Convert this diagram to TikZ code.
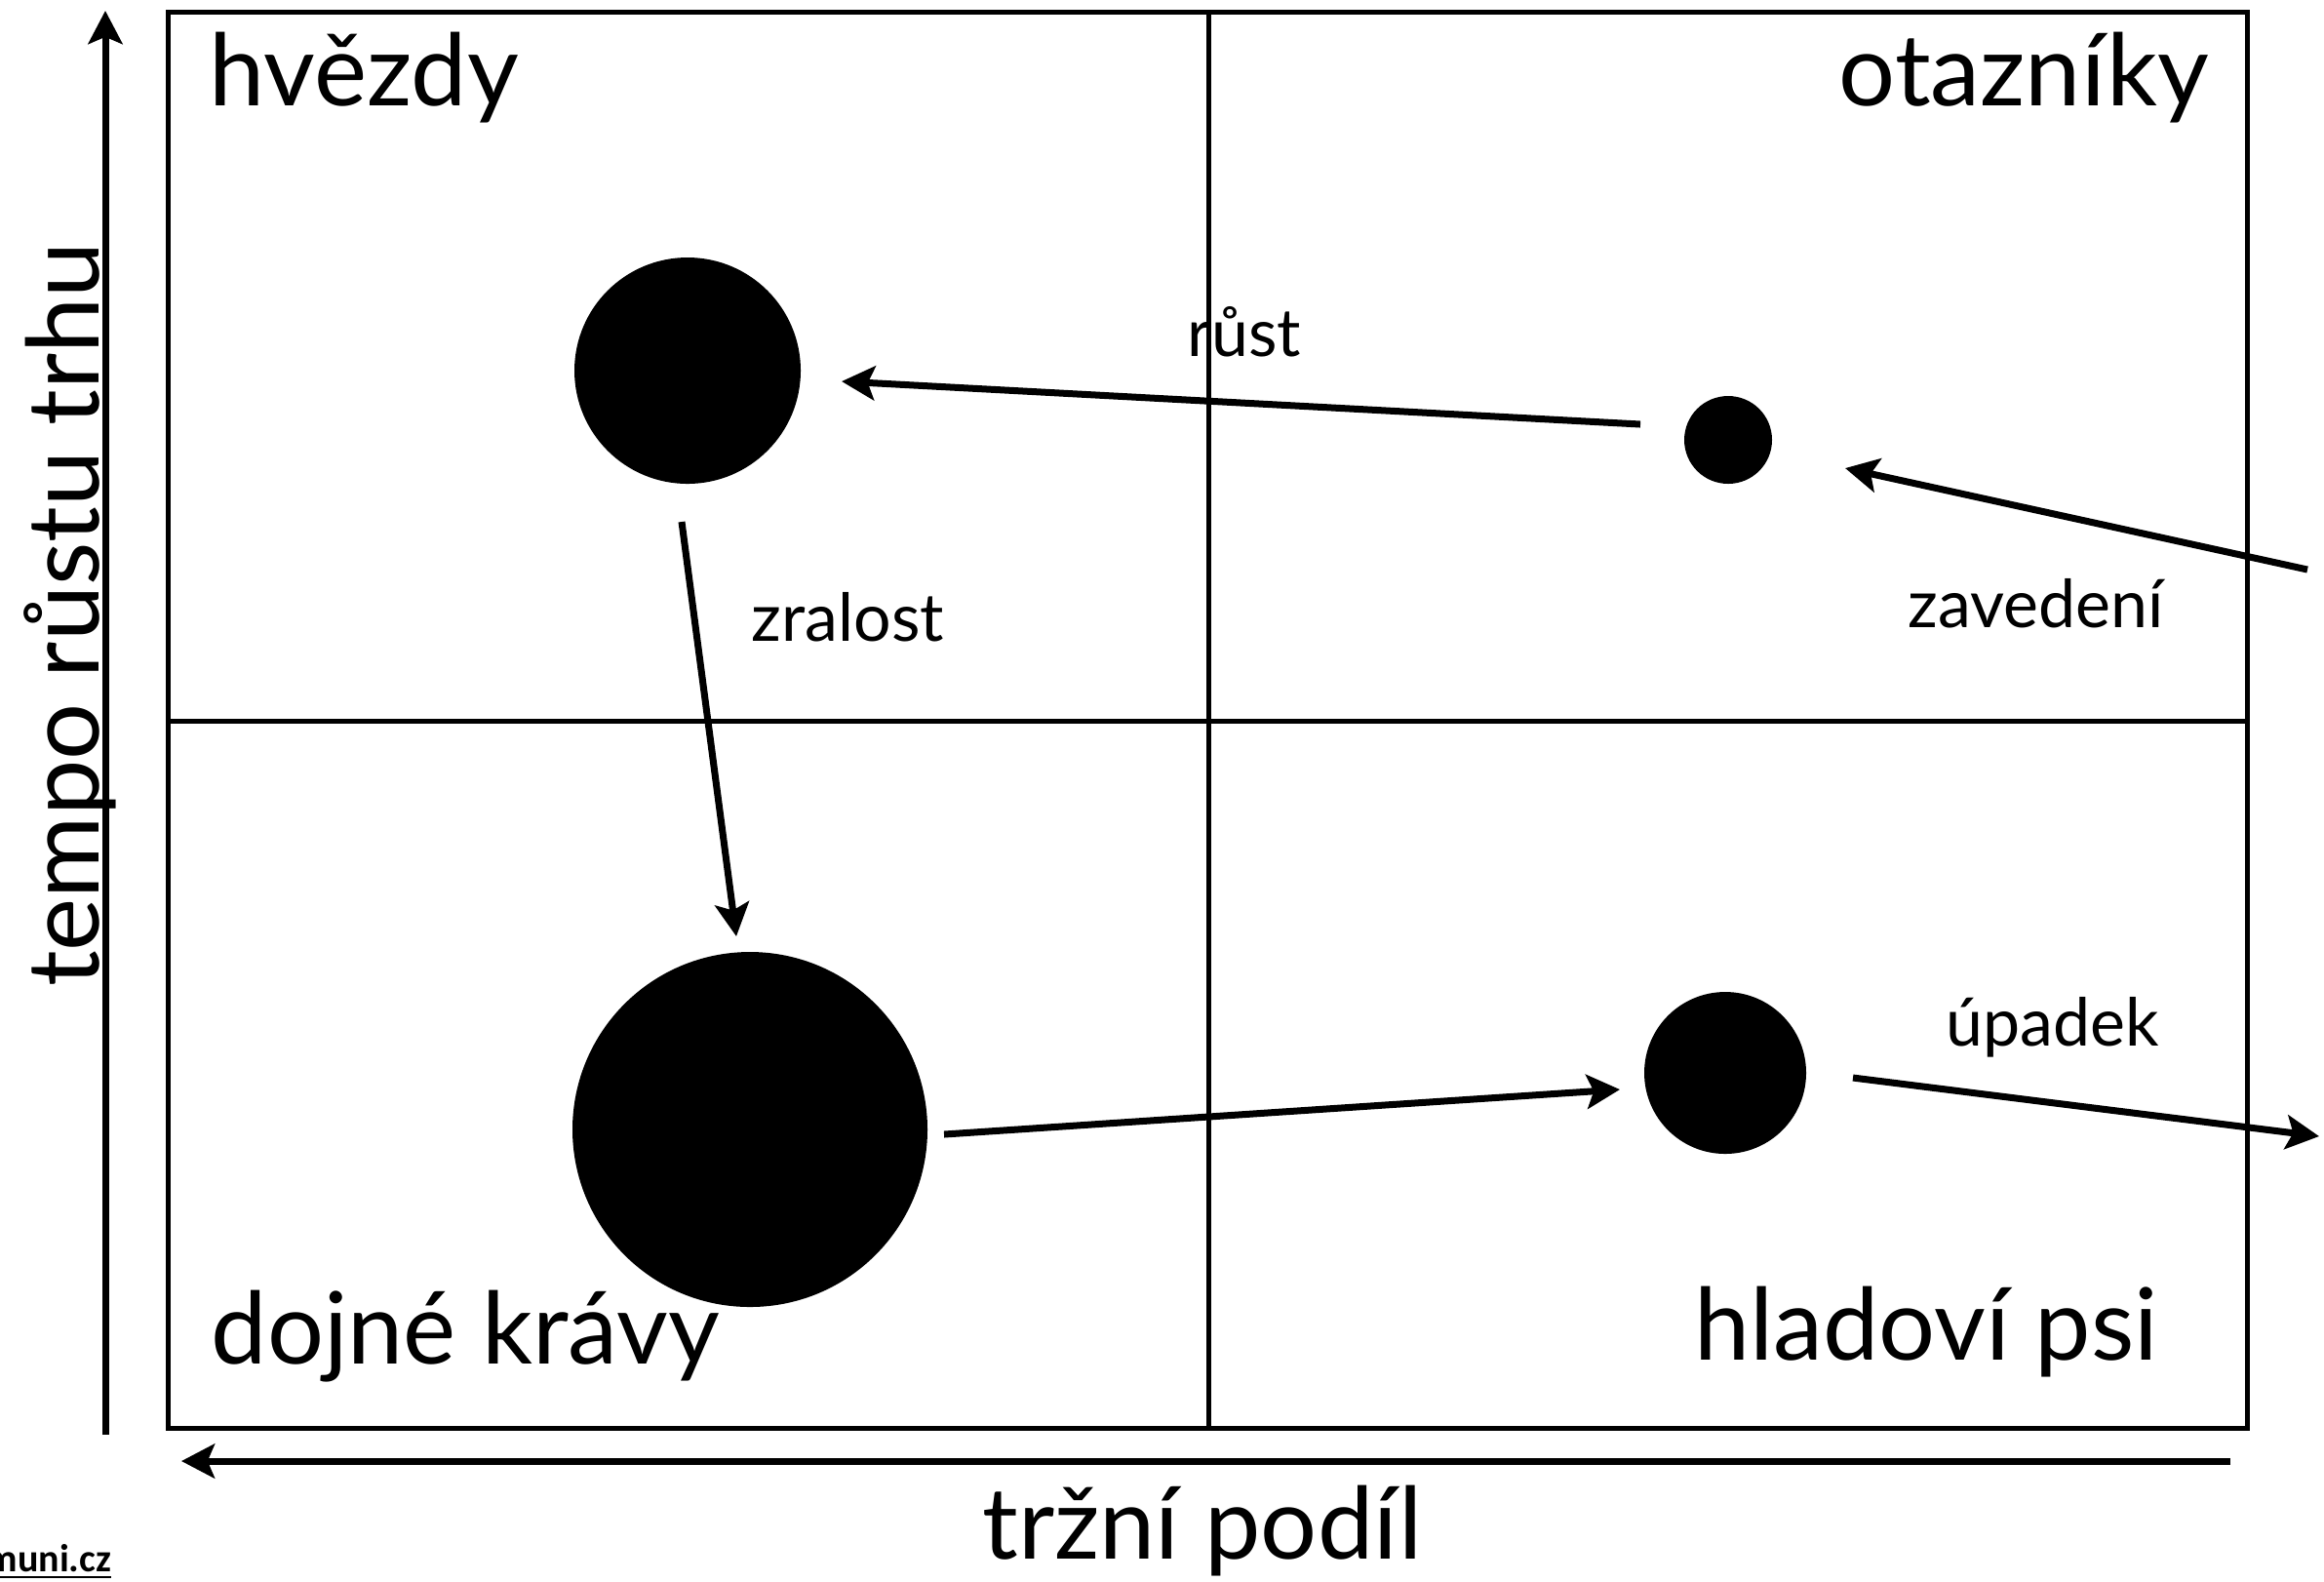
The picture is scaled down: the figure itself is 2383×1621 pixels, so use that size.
\documentclass[tikz,border=0pt]{standalone}
\usepackage{fontspec}
\setmainfont{Lato}
\newfontfamily\calib{Carlito}
\usetikzlibrary{arrows.meta}
\begin{document}
\begin{tikzpicture}[x=0.25pt,y=-0.25pt,
  frame/.style={line width=1.25pt},
  arr/.style={line width=1.75pt,-{Stealth[length=8.5pt,width=8.75pt,inset=1.8pt]}},
  dot/.style={circle,fill=black,inner sep=0pt,minimum size=#1},
  big/.style={font=\fontsize{25.6}{30}\selectfont,inner sep=0pt},
  small/.style={font=\fontsize{17}{20}\selectfont,inner sep=0pt}]
\useasboundingbox (0,0) rectangle (2383,1621);
% frame
\draw[frame] (172,12) rectangle (2304,1464);
\draw[frame] (1239,12) -- (1239,1464);
\draw[frame] (172,739) -- (2304,739);
% axes
\coordinate (ya) at (108,1471);
\coordinate (yb) at (108,11);
\coordinate (xa) at (2287,1498);
\coordinate (xb) at (186,1498);
\draw[arr] (ya) -- (yb);
\draw[arr] (xa) -- (xb);
\node[big,rotate=90,anchor=base] (ylab) at (101,630) {tempo růstu trhu};
\node[big,anchor=base] (xlab) at (1233,1598) {tržní podíl};
% quadrant labels
\node[big,anchor=base west] (stars) at (214,108) {hvězdy};
\node[big,anchor=base east] (quest) at (2266,108) {otazníky};
\node[big,anchor=base west] (cows) at (216,1398) {dojné krávy};
\node[big,anchor=base east] (dogs) at (2214,1394) {hladoví psi};
% circles
\node[dot=58pt] (star) at (705,380) {};
\node[dot=22.5pt] (q) at (1772,451) {};
\node[dot=91pt] (cow) at (769,1158) {};
\node[dot=41.5pt] (dog) at (1769,1100) {};
% arrows
\coordinate (r1) at (1682,435);
\coordinate (r2) at (863,391);
\coordinate (z1) at (2366,584);
\coordinate (z2) at (1892,480);
\coordinate (m1) at (699,535);
\coordinate (m2) at (755,960);
\coordinate (c1) at (968,1163);
\coordinate (c2) at (1661,1117);
\coordinate (u1) at (1900,1105);
\coordinate (u2) at (2378,1165);
\draw[arr] (r1) -- (r2);
\draw[arr] (z1) -- (z2);
\draw[arr] (m1) -- (m2);
\draw[arr] (c1) -- (c2);
\draw[arr] (u1) -- (u2);
% arrow labels
\node[small,anchor=base west] (lr) at (1217,365) {růst};
\node[small,anchor=base west] (lm) at (770,657) {zralost};
\node[small,anchor=base west] (lz) at (1956,643) {zavedení};
\node[small,anchor=base west] (lu) at (1995,1072) {úpadek};
% footer
\node[anchor=base east,inner sep=0pt,font=\calib\bfseries\fontsize{10}{11}\selectfont] (web) at (115,1611) {\underline{muni.cz}};
\end{tikzpicture}
\end{document}
